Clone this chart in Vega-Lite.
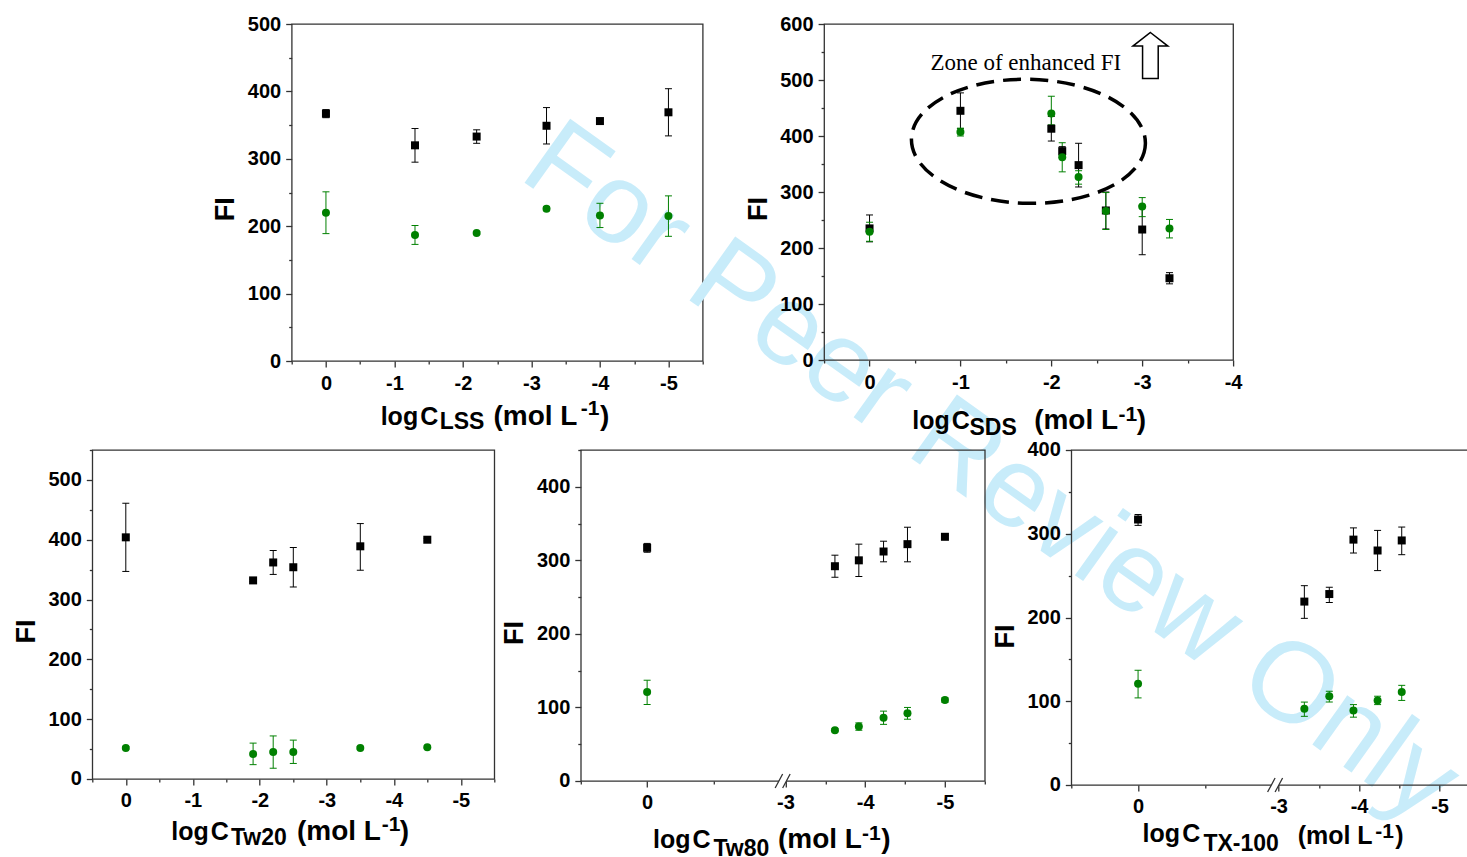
{
"$schema": "https://vega.github.io/schema/vega-lite/v6.json",
"autosize": {"type": "none"},
"padding": {"left": 92.3, "top": 24, "right": 1400, "bottom": 840},
"background": "white",
"spacing": 426,
"bounds": "flush",
"datasets": {
"lss": [
{"x":0,"y":367,"lo":361,"hi":373,"s":"A"},{"x":-1.3,"y":320,"lo":295,"hi":345,"s":"A"},{"x":-2.2,"y":333,"lo":323,"hi":343,"s":"A"},{"x":-3.22,"y":349,"lo":322,"hi":376,"s":"A"},{"x":-4,"y":356,"lo":353,"hi":359,"s":"A"},{"x":-5,"y":369,"lo":334,"hi":404,"s":"A"},
{"x":0,"y":220,"lo":189,"hi":251,"s":"B"},{"x":-1.3,"y":187,"lo":173,"hi":201,"s":"B"},{"x":-2.2,"y":190,"lo":188,"hi":192,"s":"B"},{"x":-3.22,"y":226,"lo":223,"hi":229,"s":"B"},{"x":-4,"y":216,"lo":198,"hi":234,"s":"B"},{"x":-5,"y":215,"lo":185,"hi":245,"s":"B"}],
"sds": [
{"x":0,"y":235,"lo":211,"hi":259,"s":"A"},{"x":-1,"y":445,"lo":413,"hi":477,"s":"A"},{"x":-2,"y":413,"lo":391,"hi":435,"s":"A"},{"x":-2.12,"y":373,"lo":365,"hi":381,"s":"A"},{"x":-2.3,"y":348,"lo":309,"hi":387,"s":"A"},{"x":-2.6,"y":267,"lo":234,"hi":300,"s":"A"},{"x":-3,"y":233,"lo":188,"hi":276,"s":"A"},{"x":-3.3,"y":146,"lo":136,"hi":156,"s":"A"},
{"x":0,"y":229,"lo":212,"hi":246,"s":"B"},{"x":-1,"y":407,"lo":400,"hi":414,"s":"B"},{"x":-2,"y":440,"lo":420,"hi":471,"s":"B"},{"x":-2.12,"y":362,"lo":336,"hi":388,"s":"B"},{"x":-2.3,"y":327,"lo":314,"hi":338,"s":"B"},{"x":-2.6,"y":266,"lo":233,"hi":299,"s":"B"},{"x":-3,"y":274,"lo":256,"hi":290,"s":"B"},{"x":-3.3,"y":235,"lo":218,"hi":251,"s":"B"}],
"tw20": [
{"x":0,"y":404,"lo":347,"hi":461,"s":"A"},{"x":-1.9,"y":332,"lo":330,"hi":334,"s":"A"},{"x":-2.2,"y":362,"lo":342,"hi":382,"s":"A"},{"x":-2.5,"y":354,"lo":321,"hi":387,"s":"A"},{"x":-3.5,"y":389,"lo":349,"hi":427,"s":"A"},{"x":-4.5,"y":400,"lo":398,"hi":402,"s":"A"},
{"x":0,"y":52,"lo":50,"hi":54,"s":"B"},{"x":-1.9,"y":42,"lo":24,"hi":60,"s":"B"},{"x":-2.2,"y":45,"lo":18,"hi":72,"s":"B"},{"x":-2.5,"y":45,"lo":26,"hi":65,"s":"B"},{"x":-3.5,"y":52,"lo":50,"hi":54,"s":"B"},{"x":-4.5,"y":53,"lo":51,"hi":55,"s":"B"}],
"tw80": [
{"x":0,"y":317,"lo":311,"hi":323,"s":"A"},{"x":-3.62,"y":292,"lo":277,"hi":307,"s":"A"},{"x":-3.92,"y":300,"lo":278,"hi":322,"s":"A"},{"x":-4.23,"y":312,"lo":298,"hi":326,"s":"A"},{"x":-4.53,"y":322,"lo":298,"hi":345,"s":"A"},{"x":-5,"y":332,"lo":330,"hi":334,"s":"A"},
{"x":0,"y":121,"lo":104,"hi":137,"s":"B"},{"x":-3.62,"y":69,"lo":67,"hi":71,"s":"B"},{"x":-3.92,"y":74,"lo":69,"hi":79,"s":"B"},{"x":-4.23,"y":86,"lo":77,"hi":95,"s":"B"},{"x":-4.53,"y":92,"lo":84,"hi":100,"s":"B"},{"x":-5,"y":110,"lo":107,"hi":113,"s":"B"}],
"tx100": [
{"x":0,"y":317,"lo":310,"hi":323,"s":"A"},{"x":-3.32,"y":219,"lo":199,"hi":238,"s":"A"},{"x":-3.63,"y":228,"lo":218,"hi":236,"s":"A"},{"x":-3.93,"y":293,"lo":277,"hi":307,"s":"A"},{"x":-4.23,"y":280,"lo":256,"hi":304,"s":"A"},{"x":-4.53,"y":292,"lo":275,"hi":308,"s":"A"},
{"x":0,"y":121,"lo":104,"hi":137,"s":"B"},{"x":-3.32,"y":91,"lo":82,"hi":99,"s":"B"},{"x":-3.63,"y":106,"lo":99,"hi":112,"s":"B"},{"x":-3.93,"y":89,"lo":81,"hi":96,"s":"B"},{"x":-4.23,"y":101,"lo":96,"hi":106,"s":"B"},{"x":-4.53,"y":111,"lo":101,"hi":119,"s":"B"}]
},
"config": {
"view": {"stroke": "#333333", "strokeWidth": 1.3},
"axis": {"domain": false, "grid": false, "tickColor": "#333333", "tickWidth": 1.3, "labelFont": "Liberation Sans", "labelFontWeight": "bold", "labelFontSize": 20, "labelColor": "#000000", "labelOverlap": false, "labelFlush": false, "labelBound": false, "titleFont": "Liberation Sans", "titleFontWeight": "bold", "titleFontSize": 27, "titleColor": "#000000"},
"axisX": {"labelPadding": 6},
"axisY": {"labelPadding": 5, "titleBaseline": "alphabetic", "titleAngle": 270, "titleAlign": "center", "titleX": -58},
"text": {"font": "Liberation Sans"}
},
"vconcat": [
{"hconcat": [
{"width": 78, "height": 10, "view": {"stroke": null}, "data": {"values": [{}]}, "mark": {"type": "text", "text": ""}},
{"width": 411, "height": 337, "data": {"name": "lss"},
"resolve": {"axis": {"x": "independent", "y": "independent"}},
"layer": [
{"data": {"values": [{}]}, "mark": {"type": "text", "text": "For Peer Review Only", "font": "Liberation Sans", "fontSize": 114, "fontWeight": "normal", "angle": 35.5, "align": "left", "baseline": "alphabetic", "color": "#c8ecfa"}, "encoding": {"x": {"datum": -2.79, "type": "quantitative", "axis": null}, "y": {"datum": 272.7, "type": "quantitative", "axis": null}}},
{"mark": {"type": "rule", "strokeWidth": 1}, "encoding": {
"x": {"field": "x", "type": "quantitative", "scale": {"domain": [0.5, -5.5], "nice": false, "zero": false}, "axis": {"title": null, "values": [0.5,0,-0.5,-1,-1.5,-2,-2.5,-3,-3.5,-4,-4.5,-5,-5.5], "labelExpr": "datum.value % 1 === 0 ? '' + datum.value : ''", "tickSize": {"condition": {"test": "datum.value % 1 === 0", "value": 6}, "value": 3}}},
"y": {"field": "lo", "type": "quantitative", "title": "FI", "scale": {"domain": [0, 500], "nice": false, "zero": false}, "axis": {"title": "FI", "values": [0,50,100,150,200,250,300,350,400,450,500], "labelExpr": "datum.value % 100 === 0 ? datum.label : ''", "tickSize": {"condition": {"test": "datum.value % 100 === 0", "value": 6}, "value": 3}, "titleY": 184.8}},
"y2": {"field": "hi"}, "color": {"field": "s", "type": "nominal", "scale": {"domain": ["A","B"], "range": ["#000000","#008000"]}, "legend": null}}},
{"mark": {"type": "tick", "orient": "horizontal", "size": 7, "thickness": 1, "opacity": 1}, "encoding": {"x": {"field": "x", "type": "quantitative", "axis": null}, "y": {"field": "lo", "type": "quantitative", "axis": null}, "color": {"field": "s", "type": "nominal", "scale": {"domain": ["A","B"], "range": ["#000000","#008000"]}, "legend": null}}},
{"mark": {"type": "tick", "orient": "horizontal", "size": 7, "thickness": 1, "opacity": 1}, "encoding": {"x": {"field": "x", "type": "quantitative", "axis": null}, "y": {"field": "hi", "type": "quantitative", "axis": null}, "color": {"field": "s", "type": "nominal", "scale": {"domain": ["A","B"], "range": ["#000000","#008000"]}, "legend": null}}},
{"mark": {"type": "point", "filled": true, "size": 64, "opacity": 1}, "encoding": {"x": {"field": "x", "type": "quantitative", "axis": null}, "y": {"field": "y", "type": "quantitative", "axis": null}, "color": {"field": "s", "type": "nominal", "scale": {"domain": ["A","B"], "range": ["#000000","#008000"]}, "legend": null}, "shape": {"field": "s", "type": "nominal", "scale": {"domain": ["A","B"], "range": ["square","circle"]}, "legend": null}}},
{"data": {"values": [{}]}, "mark": {"type": "text", "text": "log\u200aC", "fontWeight": "bold", "fontSize": 25, "align": "left", "baseline": "alphabetic", "color": "#000000"}, "encoding": {"x": {"datum": -0.799, "type": "quantitative", "axis": null}, "y": {"datum": -95, "type": "quantitative", "axis": null}}},
{"data": {"values": [{}]}, "mark": {"type": "text", "text": "LSS", "fontWeight": "bold", "fontSize": 23, "dy": 4, "align": "left", "baseline": "alphabetic", "color": "#000000"}, "encoding": {"x": {"datum": -1.66, "type": "quantitative", "axis": null}, "y": {"datum": -95, "type": "quantitative", "axis": null}}},
{"data": {"values": [{}]}, "mark": {"type": "text", "text": "(mol L", "fontWeight": "bold", "fontSize": 28, "align": "left", "baseline": "alphabetic", "color": "#000000"}, "encoding": {"x": {"datum": -2.446, "type": "quantitative", "axis": null}, "y": {"datum": -95, "type": "quantitative", "axis": null}}},
{"data": {"values": [{}]}, "mark": {"type": "text", "text": "-1", "fontWeight": "bold", "fontSize": 21, "dy": -10, "align": "left", "baseline": "alphabetic", "color": "#000000"}, "encoding": {"x": {"datum": -3.72, "type": "quantitative", "axis": null}, "y": {"datum": -95, "type": "quantitative", "axis": null}}},
{"data": {"values": [{}]}, "mark": {"type": "text", "text": ")", "fontWeight": "bold", "fontSize": 28, "align": "left", "baseline": "alphabetic", "color": "#000000"}, "encoding": {"x": {"datum": -4.0, "type": "quantitative", "axis": null}, "y": {"datum": -95, "type": "quantitative", "axis": null}}}
]},
{"width": 409, "height": 336, "data": {"name": "sds"},
"resolve": {"axis": {"x": "independent", "y": "independent"}},
"layer": [
{"mark": {"type": "rule", "strokeWidth": 1}, "encoding": {
"x": {"field": "x", "type": "quantitative", "scale": {"domain": [0.5, -4], "nice": false, "zero": false}, "axis": {"title": null, "values": [0.5,0,-0.5,-1,-1.5,-2,-2.5,-3,-3.5,-4], "labelExpr": "datum.value % 1 === 0 ? '' + datum.value : ''", "tickSize": {"condition": {"test": "datum.value % 1 === 0", "value": 6}, "value": 3}}},
"y": {"field": "lo", "type": "quantitative", "title": "FI", "scale": {"domain": [0, 600], "nice": false, "zero": false}, "axis": {"title": "FI", "values": [0,50,100,150,200,250,300,350,400,450,500,550,600], "labelExpr": "datum.value % 100 === 0 ? datum.label : ''", "tickSize": {"condition": {"test": "datum.value % 100 === 0", "value": 6}, "value": 3}, "titleY": 184.5}},
"y2": {"field": "hi"}, "color": {"field": "s", "type": "nominal", "scale": {"domain": ["A","B"], "range": ["#000000","#008000"]}, "legend": null}}},
{"mark": {"type": "tick", "orient": "horizontal", "size": 7, "thickness": 1, "opacity": 1}, "encoding": {"x": {"field": "x", "type": "quantitative", "axis": null}, "y": {"field": "lo", "type": "quantitative", "axis": null}, "color": {"field": "s", "type": "nominal", "scale": {"domain": ["A","B"], "range": ["#000000","#008000"]}, "legend": null}}},
{"mark": {"type": "tick", "orient": "horizontal", "size": 7, "thickness": 1, "opacity": 1}, "encoding": {"x": {"field": "x", "type": "quantitative", "axis": null}, "y": {"field": "hi", "type": "quantitative", "axis": null}, "color": {"field": "s", "type": "nominal", "scale": {"domain": ["A","B"], "range": ["#000000","#008000"]}, "legend": null}}},
{"mark": {"type": "point", "filled": true, "size": 64, "opacity": 1}, "encoding": {"x": {"field": "x", "type": "quantitative", "axis": null}, "y": {"field": "y", "type": "quantitative", "axis": null}, "color": {"field": "s", "type": "nominal", "scale": {"domain": ["A","B"], "range": ["#000000","#008000"]}, "legend": null}, "shape": {"field": "s", "type": "nominal", "scale": {"domain": ["A","B"], "range": ["square","circle"]}, "legend": null}}},
{"data": {"values": [{}]}, "mark": {"type": "point", "shape": "M1,0C1,0.2927 0.5523,0.53 0,0.53C-0.5523,0.53 -1,0.2927 -1,0C-1,-0.2927 -0.5523,-0.53 0,-0.53C0.5523,-0.53 1,-0.2927 1,0Z", "size": 54756, "filled": false, "stroke": "#000000", "strokeWidth": 3.5, "strokeDash": [18, 9], "angle": 1.2, "opacity": 1}, "encoding": {"x": {"datum": -1.748, "type": "quantitative", "axis": null}, "y": {"datum": 390.5, "type": "quantitative", "axis": null}}},
{"data": {"values": [{}]}, "mark": {"type": "text", "text": "Zone of enhanced FI", "font": "Liberation Serif", "fontSize": 23, "fontWeight": "normal", "align": "left", "baseline": "alphabetic", "color": "#000000"}, "encoding": {"x": {"datum": -0.67, "type": "quantitative", "axis": null}, "y": {"datum": 517.9, "type": "quantitative", "axis": null}}},
{"data": {"values": [{}]}, "mark": {"type": "point", "shape": "M0,-1L0.76,-0.41L0.34,-0.41L0.34,1L-0.34,1L-0.34,-0.41L-0.76,-0.41Z", "size": 2116, "filled": true, "fill": "#ffffff", "stroke": "#000000", "strokeWidth": 1.5, "opacity": 1}, "encoding": {"x": {"datum": -3.09, "type": "quantitative", "axis": null}, "y": {"datum": 543.8, "type": "quantitative", "axis": null}}},
{"data": {"values": [{}]}, "mark": {"type": "text", "text": "log\u200aC", "fontWeight": "bold", "fontSize": 25, "align": "left", "baseline": "alphabetic", "color": "#000000"}, "encoding": {"x": {"datum": -0.47, "type": "quantitative", "axis": null}, "y": {"datum": -123.2, "type": "quantitative", "axis": null}}},
{"data": {"values": [{}]}, "mark": {"type": "text", "text": "SDS", "fontWeight": "bold", "fontSize": 23, "dy": 6, "align": "left", "baseline": "alphabetic", "color": "#000000"}, "encoding": {"x": {"datum": -1.1, "type": "quantitative", "axis": null}, "y": {"datum": -123.2, "type": "quantitative", "axis": null}}},
{"data": {"values": [{}]}, "mark": {"type": "text", "text": "(mol L", "fontWeight": "bold", "fontSize": 28, "align": "left", "baseline": "alphabetic", "color": "#000000"}, "encoding": {"x": {"datum": -1.811, "type": "quantitative", "axis": null}, "y": {"datum": -123.2, "type": "quantitative", "axis": null}}},
{"data": {"values": [{}]}, "mark": {"type": "text", "text": "-1", "fontWeight": "bold", "fontSize": 21, "dy": -8, "align": "left", "baseline": "alphabetic", "color": "#000000"}, "encoding": {"x": {"datum": -2.74, "type": "quantitative", "axis": null}, "y": {"datum": -123.2, "type": "quantitative", "axis": null}}},
{"data": {"values": [{}]}, "mark": {"type": "text", "text": ")", "fontWeight": "bold", "fontSize": 28, "align": "left", "baseline": "alphabetic", "color": "#000000"}, "encoding": {"x": {"datum": -2.94, "type": "quantitative", "axis": null}, "y": {"datum": -123.2, "type": "quantitative", "axis": null}}}
]}
], "spacing": 121.4, "bounds": "flush"},
{"hconcat": [
{"width": 402, "height": 329, "data": {"name": "tw20"},
"resolve": {"axis": {"x": "independent", "y": "independent"}},
"layer": [
{"mark": {"type": "rule", "strokeWidth": 1}, "encoding": {
"x": {"field": "x", "type": "quantitative", "scale": {"domain": [0.5, -5.5], "nice": false, "zero": false}, "axis": {"title": null, "values": [0.5,0,-0.5,-1,-1.5,-2,-2.5,-3,-3.5,-4,-4.5,-5,-5.5], "labelExpr": "datum.value % 1 === 0 ? '' + datum.value : ''", "tickSize": {"condition": {"test": "datum.value % 1 === 0", "value": 6}, "value": 3}}},
"y": {"field": "lo", "type": "quantitative", "title": "FI", "scale": {"domain": [0, 550], "nice": false, "zero": false}, "axis": {"title": "FI", "values": [0,50,100,150,200,250,300,350,400,450,500,550], "labelExpr": "datum.value % 100 === 0 ? datum.label : ''", "tickSize": {"condition": {"test": "datum.value % 100 === 0", "value": 6}, "value": 3}, "titleY": 181}},
"y2": {"field": "hi"}, "color": {"field": "s", "type": "nominal", "scale": {"domain": ["A","B"], "range": ["#000000","#008000"]}, "legend": null}}},
{"mark": {"type": "tick", "orient": "horizontal", "size": 7, "thickness": 1, "opacity": 1}, "encoding": {"x": {"field": "x", "type": "quantitative", "axis": null}, "y": {"field": "lo", "type": "quantitative", "axis": null}, "color": {"field": "s", "type": "nominal", "scale": {"domain": ["A","B"], "range": ["#000000","#008000"]}, "legend": null}}},
{"mark": {"type": "tick", "orient": "horizontal", "size": 7, "thickness": 1, "opacity": 1}, "encoding": {"x": {"field": "x", "type": "quantitative", "axis": null}, "y": {"field": "hi", "type": "quantitative", "axis": null}, "color": {"field": "s", "type": "nominal", "scale": {"domain": ["A","B"], "range": ["#000000","#008000"]}, "legend": null}}},
{"mark": {"type": "point", "filled": true, "size": 64, "opacity": 1}, "encoding": {"x": {"field": "x", "type": "quantitative", "axis": null}, "y": {"field": "y", "type": "quantitative", "axis": null}, "color": {"field": "s", "type": "nominal", "scale": {"domain": ["A","B"], "range": ["#000000","#008000"]}, "legend": null}, "shape": {"field": "s", "type": "nominal", "scale": {"domain": ["A","B"], "range": ["square","circle"]}, "legend": null}}},
{"data": {"values": [{}]}, "mark": {"type": "text", "text": "log\u200aC", "fontWeight": "bold", "fontSize": 25, "align": "left", "baseline": "alphabetic", "color": "#000000"}, "encoding": {"x": {"datum": -0.678, "type": "quantitative", "axis": null}, "y": {"datum": -102, "type": "quantitative", "axis": null}}},
{"data": {"values": [{}]}, "mark": {"type": "text", "text": "Tw20", "fontWeight": "bold", "fontSize": 23, "dy": 5, "align": "left", "baseline": "alphabetic", "color": "#000000"}, "encoding": {"x": {"datum": -1.57, "type": "quantitative", "axis": null}, "y": {"datum": -102, "type": "quantitative", "axis": null}}},
{"data": {"values": [{}]}, "mark": {"type": "text", "text": "(mol L", "fontWeight": "bold", "fontSize": 28, "align": "left", "baseline": "alphabetic", "color": "#000000"}, "encoding": {"x": {"datum": -2.555, "type": "quantitative", "axis": null}, "y": {"datum": -102, "type": "quantitative", "axis": null}}},
{"data": {"values": [{}]}, "mark": {"type": "text", "text": "-1", "fontWeight": "bold", "fontSize": 21, "dy": -9, "align": "left", "baseline": "alphabetic", "color": "#000000"}, "encoding": {"x": {"datum": -3.82, "type": "quantitative", "axis": null}, "y": {"datum": -102, "type": "quantitative", "axis": null}}},
{"data": {"values": [{}]}, "mark": {"type": "text", "text": ")", "fontWeight": "bold", "fontSize": 28, "align": "left", "baseline": "alphabetic", "color": "#000000"}, "encoding": {"x": {"datum": -4.09, "type": "quantitative", "axis": null}, "y": {"datum": -102, "type": "quantitative", "axis": null}}}
]},
{"width": 404, "height": 331, "data": {"name": "tw80"},
"resolve": {"axis": {"x": "independent", "y": "independent"}},
"layer": [
{"mark": {"type": "rule", "strokeWidth": 1}, "encoding": {
"x": {"field": "x", "type": "quantitative", "scale": {"domain": [0.5, -1, -3, -5.5], "range": [0, 199, 204.7, 404], "nice": false, "zero": false}, "axis": {"title": null, "values": [0.5,0,-0.5,-3,-3.5,-4,-4.5,-5,-5.5], "labelExpr": "datum.value % 1 === 0 ? '' + datum.value : ''", "tickSize": {"condition": {"test": "datum.value % 1 === 0", "value": 6}, "value": 3}}},
"y": {"field": "lo", "type": "quantitative", "title": "FI", "scale": {"domain": [0, 450], "nice": false, "zero": false}, "axis": {"title": "FI", "values": [0,50,100,150,200,250,300,350,400,450], "labelExpr": "datum.value % 100 === 0 ? datum.label : ''", "tickSize": {"condition": {"test": "datum.value % 100 === 0", "value": 6}, "value": 3}, "titleY": 182.5}},
"y2": {"field": "hi"}, "color": {"field": "s", "type": "nominal", "scale": {"domain": ["A","B"], "range": ["#000000","#008000"]}, "legend": null}}},
{"mark": {"type": "tick", "orient": "horizontal", "size": 7, "thickness": 1, "opacity": 1}, "encoding": {"x": {"field": "x", "type": "quantitative", "axis": null}, "y": {"field": "lo", "type": "quantitative", "axis": null}, "color": {"field": "s", "type": "nominal", "scale": {"domain": ["A","B"], "range": ["#000000","#008000"]}, "legend": null}}},
{"mark": {"type": "tick", "orient": "horizontal", "size": 7, "thickness": 1, "opacity": 1}, "encoding": {"x": {"field": "x", "type": "quantitative", "axis": null}, "y": {"field": "hi", "type": "quantitative", "axis": null}, "color": {"field": "s", "type": "nominal", "scale": {"domain": ["A","B"], "range": ["#000000","#008000"]}, "legend": null}}},
{"mark": {"type": "point", "filled": true, "size": 64, "opacity": 1}, "encoding": {"x": {"field": "x", "type": "quantitative", "axis": null}, "y": {"field": "y", "type": "quantitative", "axis": null}, "color": {"field": "s", "type": "nominal", "scale": {"domain": ["A","B"], "range": ["#000000","#008000"]}, "legend": null}, "shape": {"field": "s", "type": "nominal", "scale": {"domain": ["A","B"], "range": ["square","circle"]}, "legend": null}}},
{"data": {"values": [{}]}, "mark": {"type": "point", "shape": "M-1,0.93L0,-0.93L1,-0.93L0,0.93Z", "size": 225, "filled": true, "fill": "#ffffff", "strokeWidth": 0, "opacity": 1}, "encoding": {"x": {"datum": -2, "type": "quantitative", "axis": null}, "y": {"datum": 0, "type": "quantitative", "axis": null}}},
{"data": {"values": [{}]}, "mark": {"type": "point", "shape": "M-1,0.93L0,-0.93M0,0.93L1,-0.93", "size": 225, "filled": false, "stroke": "#333333", "strokeWidth": 1.3, "opacity": 1}, "encoding": {"x": {"datum": -2, "type": "quantitative", "axis": null}, "y": {"datum": 0, "type": "quantitative", "axis": null}}},
{"data": {"values": [{}]}, "mark": {"type": "text", "text": "log\u200aC", "fontWeight": "bold", "fontSize": 25, "align": "left", "baseline": "alphabetic", "color": "#000000"}, "encoding": {"x": {"datum": -0.044, "type": "quantitative", "axis": null}, "y": {"datum": -91.5, "type": "quantitative", "axis": null}}},
{"data": {"values": [{}]}, "mark": {"type": "text", "text": "Tw80", "fontWeight": "bold", "fontSize": 23, "dy": 8, "align": "left", "baseline": "alphabetic", "color": "#000000"}, "encoding": {"x": {"datum": -0.5, "type": "quantitative", "axis": null}, "y": {"datum": -91.5, "type": "quantitative", "axis": null}}},
{"data": {"values": [{}]}, "mark": {"type": "text", "text": "(mol L", "fontWeight": "bold", "fontSize": 28, "align": "left", "baseline": "alphabetic", "color": "#000000"}, "encoding": {"x": {"datum": -0.986, "type": "quantitative", "axis": null}, "y": {"datum": -91.5, "type": "quantitative", "axis": null}}},
{"data": {"values": [{}]}, "mark": {"type": "text", "text": "-1", "fontWeight": "bold", "fontSize": 21, "dy": -8, "align": "left", "baseline": "alphabetic", "color": "#000000"}, "encoding": {"x": {"datum": -3.96, "type": "quantitative", "axis": null}, "y": {"datum": -91.5, "type": "quantitative", "axis": null}}},
{"data": {"values": [{}]}, "mark": {"type": "text", "text": ")", "fontWeight": "bold", "fontSize": 28, "align": "left", "baseline": "alphabetic", "color": "#000000"}, "encoding": {"x": {"datum": -4.2, "type": "quantitative", "axis": null}, "y": {"datum": -91.5, "type": "quantitative", "axis": null}}}
]},
{"width": 409, "height": 335, "data": {"name": "tx100"},
"resolve": {"axis": {"x": "independent", "y": "independent"}},
"layer": [
{"mark": {"type": "rule", "strokeWidth": 1}, "encoding": {
"x": {"field": "x", "type": "quantitative", "scale": {"domain": [0.5, -1, -3, -5.5], "range": [0, 200.3, 207.3, 408.5], "nice": false, "zero": false}, "axis": {"title": null, "values": [0.5,0,-0.5,-3,-3.5,-4,-4.5,-5,-5.5], "labelExpr": "datum.value % 1 === 0 ? '' + datum.value : ''", "tickSize": {"condition": {"test": "datum.value % 1 === 0", "value": 6}, "value": 3}}},
"y": {"field": "lo", "type": "quantitative", "title": "FI", "scale": {"domain": [0, 400], "nice": false, "zero": false}, "axis": {"title": "FI", "values": [0,50,100,150,200,250,300,350,400], "labelExpr": "datum.value % 100 === 0 ? datum.label : ''", "tickSize": {"condition": {"test": "datum.value % 100 === 0", "value": 6}, "value": 3}, "titleY": 186}},
"y2": {"field": "hi"}, "color": {"field": "s", "type": "nominal", "scale": {"domain": ["A","B"], "range": ["#000000","#008000"]}, "legend": null}}},
{"mark": {"type": "tick", "orient": "horizontal", "size": 7, "thickness": 1, "opacity": 1}, "encoding": {"x": {"field": "x", "type": "quantitative", "axis": null}, "y": {"field": "lo", "type": "quantitative", "axis": null}, "color": {"field": "s", "type": "nominal", "scale": {"domain": ["A","B"], "range": ["#000000","#008000"]}, "legend": null}}},
{"mark": {"type": "tick", "orient": "horizontal", "size": 7, "thickness": 1, "opacity": 1}, "encoding": {"x": {"field": "x", "type": "quantitative", "axis": null}, "y": {"field": "hi", "type": "quantitative", "axis": null}, "color": {"field": "s", "type": "nominal", "scale": {"domain": ["A","B"], "range": ["#000000","#008000"]}, "legend": null}}},
{"mark": {"type": "point", "filled": true, "size": 64, "opacity": 1}, "encoding": {"x": {"field": "x", "type": "quantitative", "axis": null}, "y": {"field": "y", "type": "quantitative", "axis": null}, "color": {"field": "s", "type": "nominal", "scale": {"domain": ["A","B"], "range": ["#000000","#008000"]}, "legend": null}, "shape": {"field": "s", "type": "nominal", "scale": {"domain": ["A","B"], "range": ["square","circle"]}, "legend": null}}},
{"data": {"values": [{}]}, "mark": {"type": "point", "shape": "M-1,0.93L0,-0.93L1,-0.93L0,0.93Z", "size": 225, "filled": true, "fill": "#ffffff", "strokeWidth": 0, "opacity": 1}, "encoding": {"x": {"datum": -2, "type": "quantitative", "axis": null}, "y": {"datum": 0, "type": "quantitative", "axis": null}}},
{"data": {"values": [{}]}, "mark": {"type": "point", "shape": "M-1,0.93L0,-0.93M0,0.93L1,-0.93", "size": 225, "filled": false, "stroke": "#333333", "strokeWidth": 1.3, "opacity": 1}, "encoding": {"x": {"datum": -2, "type": "quantitative", "axis": null}, "y": {"datum": 0, "type": "quantitative", "axis": null}}},
{"data": {"values": [{}]}, "mark": {"type": "text", "text": "log\u200aC", "fontWeight": "bold", "fontSize": 25, "align": "left", "baseline": "alphabetic", "color": "#000000"}, "encoding": {"x": {"datum": -0.034, "type": "quantitative", "axis": null}, "y": {"datum": -67.7, "type": "quantitative", "axis": null}}},
{"data": {"values": [{}]}, "mark": {"type": "text", "text": "TX-100", "fontWeight": "bold", "fontSize": 23, "dy": 9, "align": "left", "baseline": "alphabetic", "color": "#000000"}, "encoding": {"x": {"datum": -0.49, "type": "quantitative", "axis": null}, "y": {"datum": -67.7, "type": "quantitative", "axis": null}}},
{"data": {"values": [{}]}, "mark": {"type": "text", "text": "(mol L", "fontWeight": "bold", "fontSize": 25, "dy": 2, "align": "left", "baseline": "alphabetic", "color": "#000000"}, "encoding": {"x": {"datum": -3.237, "type": "quantitative", "axis": null}, "y": {"datum": -67.7, "type": "quantitative", "axis": null}}},
{"data": {"values": [{}]}, "mark": {"type": "text", "text": "-1", "fontWeight": "bold", "fontSize": 21, "dy": -4, "align": "left", "baseline": "alphabetic", "color": "#000000"}, "encoding": {"x": {"datum": -4.2, "type": "quantitative", "axis": null}, "y": {"datum": -67.7, "type": "quantitative", "axis": null}}},
{"data": {"values": [{}]}, "mark": {"type": "text", "text": ")", "fontWeight": "bold", "fontSize": 25, "dy": 2, "align": "left", "baseline": "alphabetic", "color": "#000000"}, "encoding": {"x": {"datum": -4.45, "type": "quantitative", "axis": null}, "y": {"datum": -67.7, "type": "quantitative", "axis": null}}}
]}
], "spacing": 86.5, "bounds": "flush"}
]
}
